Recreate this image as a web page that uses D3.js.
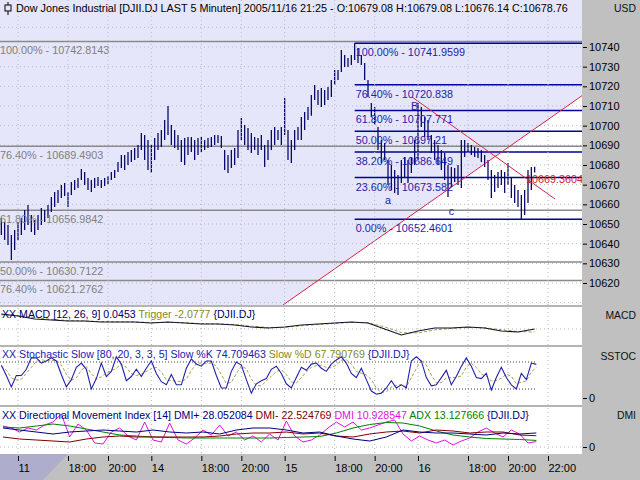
<!DOCTYPE html>
<html lang="de">
<head>
<meta charset="UTF-8">
<title>Dow Jones Industrial - 5 Minuten</title>
<style>
  body { margin: 0; background: #c0c0c0; }
  svg { display: block; font-family: "Liberation Sans", Arial, sans-serif; }
</style>
</head>
<body>
<div id="chart"></div>
<script src="https://cdn.jsdelivr.net/npm/d3@7"></script>
<script>
// ---- data (bar index = 5 minute bars counted from 11/11 15:30, 80 bars per day) ----
const priceStart = -10, priceStep = 2;
const priceHigh = [
  10653.1, 10651.0, 10649.5, 10644.4, 10647.0, 10651.0, 10653.1, 10657.1, 10659.7, 10654.6,
  10652.0, 10654.6, 10658.1, 10657.1, 10659.7, 10663.7, 10666.3, 10667.3, 10669.8, 10670.9,
  10666.3, 10671.4, 10672.4, 10673.4, 10678.0, 10676.4, 10673.4, 10672.4, 10673.4, 10673.9,
  10672.4, 10673.4, 10674.4, 10676.4, 10677.5, 10681.5, 10685.1, 10685.1, 10686.6, 10687.6,
  10688.7, 10690.2, 10696.3, 10695.3, 10692.7, 10690.2, 10693.7, 10696.3, 10697.8, 10702.9,
  10710.0, 10700.3, 10697.8, 10695.3, 10692.7, 10693.7, 10694.2, 10694.2, 10692.7, 10693.7,
  10694.2, 10692.7, 10693.7, 10694.2, 10695.3, 10695.3, 10694.8, 10687.6, 10685.1, 10687.6,
  10688.7, 10697.8, 10703.9, 10700.3, 10698.8, 10696.3, 10694.2, 10693.7, 10695.3, 10690.2,
  10692.7, 10697.8, 10699.3, 10697.8, 10699.3, 10714.1, 10697.8, 10692.7, 10697.8, 10699.3,
  10704.4, 10707.0, 10709.5, 10715.6, 10720.7, 10718.1, 10719.2, 10718.1, 10719.7, 10723.2,
  10728.3, 10728.3, 10738.5, 10735.9, 10734.4, 10735.9, 10741.96, 10739.5, 10735.9, 10731.9,
  10723.2, 10711.5, 10709.5, 10699.3, 10692.7, 10691.2, 10682.5, 10680.0, 10677.5, 10674.9,
  10682.5, 10684.1, 10682.5, 10684.1, 10692.7, 10711.5, 10709.5, 10704.4, 10702.9, 10695.3,
  10692.7, 10690.2, 10687.6, 10686.1, 10680.0, 10679.0, 10678.5, 10680.0, 10692.7, 10692.7,
  10691.2, 10690.2, 10689.2, 10688.7, 10687.6, 10685.1, 10682.5, 10677.5, 10674.9, 10676.4,
  10677.5, 10676.4, 10681.0, 10673.4, 10669.8, 10667.3, 10664.8, 10667.3, 10677.5, 10679.0,
  10679.08
];
const priceLow = [
  10644.4, 10641.9, 10639.3, 10631.7, 10636.8, 10641.9, 10644.4, 10647.0, 10649.5, 10645.9,
  10644.4, 10647.0, 10649.5, 10651.0, 10653.1, 10656.1, 10658.7, 10660.7, 10663.2, 10664.2,
  10658.7, 10664.8, 10667.3, 10668.3, 10672.4, 10669.8, 10667.3, 10666.3, 10668.3, 10669.3,
  10668.3, 10669.3, 10670.3, 10672.4, 10673.4, 10676.4, 10678.5, 10677.5, 10680.0, 10681.5,
  10682.5, 10683.6, 10687.6, 10682.5, 10677.5, 10675.9, 10682.5, 10687.6, 10689.2, 10692.7,
  10695.3, 10690.2, 10688.7, 10687.6, 10681.5, 10680.0, 10685.1, 10686.6, 10682.5, 10685.1,
  10686.6, 10687.6, 10688.7, 10689.2, 10690.2, 10691.2, 10688.7, 10677.5, 10675.9, 10678.5,
  10680.0, 10683.6, 10692.7, 10690.2, 10687.6, 10686.1, 10687.6, 10685.1, 10687.6, 10679.0,
  10682.5, 10687.6, 10690.2, 10692.7, 10690.2, 10695.3, 10682.5, 10681.0, 10687.6, 10692.7,
  10692.7, 10697.8, 10702.9, 10705.0, 10713.1, 10710.5, 10709.5, 10710.5, 10713.1, 10714.6,
  10720.7, 10723.2, 10727.3, 10729.8, 10729.8, 10730.8, 10733.4, 10731.9, 10730.8, 10723.2,
  10714.6, 10704.4, 10700.3, 10687.6, 10681.0, 10682.5, 10669.8, 10667.3, 10665.8, 10664.8,
  10670.9, 10673.4, 10670.9, 10675.9, 10680.0, 10682.5, 10699.3, 10694.2, 10692.7, 10686.1,
  10682.5, 10680.0, 10677.5, 10672.4, 10663.7, 10668.8, 10671.4, 10669.8, 10668.3, 10684.1,
  10686.1, 10685.1, 10684.1, 10683.6, 10681.5, 10679.0, 10672.4, 10663.2, 10666.3, 10668.3,
  10669.8, 10665.8, 10669.8, 10663.2, 10660.7, 10658.7, 10652.46, 10654.6, 10660.7, 10667.3,
  10676.14
];

const macdStart = -10, macdStep = 10;
const macdValues = [10.5, 9.1, 7.0, 6.3, 5.6, 5.6, 4.9, 4.9, 4.9, 4.2, 4.9, 4.2, 3.5, 3.5, 2.8, 1.4, 0.7,
  1.4, 2.8, 3.5, 4.2, 4.9, 4.2, 0.0, -4.2, -1.4, 0.7, 0.7, 1.4, 0.7, -1.4, -2.1, 0.0453];
const macdTrigger = [10.0, 9.5, 8.0, 6.8, 6.0, 5.6, 5.2, 5.0, 4.9, 4.5, 4.6, 4.4, 3.8, 3.6, 3.1, 2.0, 1.0,
  1.2, 2.2, 3.1, 3.9, 4.6, 4.4, 1.5, -2.5, -2.8, -0.6, 0.4, 1.0, 0.9, -0.5, -1.8, -2.0777];

const stochStart = -10, stochStep = 3;
const stochK = [
  73.0, 50.0, 24.7, 50.0, 50.0, 63.8, 89.2, 89.2, 77.6, 82.3,
  89.2, 82.3, 52.3, 24.7, 40.8, 68.4, 77.6, 63.8, 20.0, 43.1,
  77.6, 47.7, 59.2, 91.5, 75.3, 38.5, 47.7, 63.8, 47.7, 66.1,
  82.3, 54.6, 36.2, 29.3, 52.3, 29.3, 29.3, 66.1, 86.9, 75.3,
  70.7, 82.3, 82.3, 50.0, 22.3, 22.3, 59.2, 80.0, 73.0, 40.8,
  10.8, 31.6, 38.5, 43.1, 63.8, 70.7, 54.6, 31.6, 22.3, 45.4,
  68.4, 61.5, 75.3, 77.6, 66.1, 59.2, 75.3, 84.6, 91.5, 77.6,
  54.6, 45.4, 66.1, 40.8, 15.4, 8.5, 10.8, 22.3, 38.5, 22.3,
  29.3, 22.3, 82.3, 91.5, 82.3, 45.4, 27.0, 29.3, 45.4, 61.5,
  29.3, 47.7, 70.7, 89.2, 70.7, 45.4, 43.1, 54.6, 17.7, 45.4,
  68.4, 45.4, 29.3, 20.0, 54.6, 40.8, 77.6, 74.709463
];
const stochD = [
  70, 62, 45, 40, 42, 55, 68, 81, 85, 83,
  83, 84, 74, 53, 39, 45, 62, 70, 54, 42,
  47, 56, 61, 66, 75, 68, 54, 50, 53, 59,
  65, 68, 58, 40, 39, 37, 37, 42, 61, 76,
  78, 76, 78, 71, 52, 32, 35, 54, 71, 65,
  42, 28, 27, 38, 48, 59, 63, 52, 36, 33,
  45, 58, 68, 72, 73, 68, 67, 73, 84, 85,
  75, 59, 55, 51, 41, 22, 12, 14, 24, 28,
  30, 25, 45, 65, 85, 73, 51, 34, 34, 45,
  45, 46, 49, 69, 77, 68, 53, 48, 38, 39,
  44, 53, 48, 32, 35, 38, 58, 67.790769
];

const dmiStart = -9, dmiStep = 10;
const dmiPlus = [38, 34, 30, 26, 30, 32, 34, 32, 30, 34, 30, 28, 30, 26, 34, 38, 38, 34, 28, 30,
  22, 16, 12, 20, 34, 30, 28, 28, 26, 24, 28, 26, 28.052084];
const dmiMinus = [20, 16, 14, 12, 10, 16, 20, 22, 20, 20, 20, 20, 20, 22, 26, 28, 28, 30, 26, 28,
  22, 20, 26, 30, 32, 28, 34, 32, 28, 30, 30, 24, 22.524769];
const adxValues = [40, 38, 42, 46, 42, 36, 30, 24, 22, 20, 19, 18, 18, 18, 18, 18, 18, 19, 20, 21,
  28, 38, 45, 49, 48, 42, 32, 24, 20, 17, 16, 15, 13.127666];
const dxStart = -9, dxStep = 5;
const dxValues = [
  42, 38, 30, 38, 34, 44, 50, 66, 20, 46,
  34, 8, 6, 30, 38, 22, 14, 50, 14, 10,
  48, 14, 6, 18, 34, 24, 44, 22, 30, 14,
  22, 10, 26, 14, 52, 22, 10, 14, 24, 38,
  50, 40, 50, 34, 38, 44, 50, 54, 26, 12,
  22, 14, 8, 14, 4, 12, 18, 30, 38, 28,
  20, 34, 26, 8, 10.928547
];

const tickBars = [0, 30, 54, 80, 110, 134, 160, 190, 214, 240, 270, 294, 318];
const tickLabels = ["11", "18:00", "20:00", "14", "18:00", "20:00", "15", "18:00", "20:00", "16", "18:00", "20:00", "22:00"];
const priceTicks = [10620, 10630, 10640, 10650, 10660, 10670, 10680, 10690, 10700, 10710, 10720, 10730, 10740];

const fibLeftNames = ["100.00%", "76.40%", "61.80%", "50.00%", "76.40%"];
const fibLeftText = ["10742.8143", "10689.4903", "10656.9842", "10630.7122", "10621.2762"];
const fibRightNames = ["100.00%", "76.40%", "61.80%", "50.00%", "38.20%", "23.60%", "0.00%"];
const fibRightText = ["10741.9599", "10720.838", "10707.771", "10697.21", "10686.649", "10673.582", "10652.4601"];
const fibRightStartBar = 202;

const upTrendBars = [159, 339], upTrendPrices = [10608.8, 10715.6];
const downTrendBars = [236.4, 322.2], downTrendPrices = [10714.6, 10662.7];
const crossText = "10669.3604", crossBar = 339, crossPrice = 10673;
const waveNames = ["B", "a", "c"], waveBars = [238, 222, 260], wavePrices = [10710.2, 10662.3, 10656.6];

// ---- layout ----
const W = 640, H = 480, plotR = 582;
const panels = {
  main: [0, 305], macd: [307, 345], stoch: [347, 405], dmi: [407, 454]
};
const lavender = "#e6e6fa";
const fs = "10.8px", fsAxis = "11px", fsCap = "10.4px";

const svg = d3.select("#chart").append("svg").attr("width", W).attr("height", H);

svg.append("rect").attr("width", W).attr("height", H).attr("fill", "#c0c0c0");
// separators
svg.append("rect").attr("x", 0).attr("y", 0).attr("width", plotR).attr("height", 454).attr("fill", "#b4b4b4");
Object.entries(panels).forEach(([k, p]) => {
  svg.append("clipPath").attr("id", "clip-" + k).append("rect")
    .attr("x", 0).attr("y", p[0]).attr("width", plotR).attr("height", p[1] - p[0]);
  svg.append("rect").attr("x", 0).attr("y", p[0]).attr("width", plotR).attr("height", p[1] - p[0]).attr("fill", "#fff");
});

const x = d3.scaleLinear().domain([-10.8, 339]).range([0, 583]);
const yP = d3.scaleLinear().domain([10620, 10740]).range([283, 47]);
const yM = d3.scaleLinear().domain([0, 10]).range([329, 314.7]);
const yS = d3.scaleLinear().domain([0, 100]).range([398, 353]);
const yD = d3.scaleLinear().domain([0, 100]).range([447, 397]);

function series(values, start, step) {
  return values.map((v, i) => ({ bar: start + i * step, v: v }));
}

// bluish shading in the time strip
svg.append("polygon").attr("points", "0,454 68,454 43,480 0,480").attr("fill", "#aeaecc");

// ---- main panel ----
const gMain = svg.append("g").attr("clip-path", "url(#clip-main)");
const slope = (upTrendPrices[1] - upTrendPrices[0]) / (upTrendBars[1] - upTrendBars[0]);
const upAt = b => upTrendPrices[0] + (b - upTrendBars[0]) * slope;
const farBar = 60;
gMain.append("polygon").attr("fill", lavender).attr("points", [
  [x(-10.8), 0], [x(339), 0], [x(339), yP(upAt(339))], [x(farBar), yP(upAt(farBar))], [x(-10.8), yP(upAt(farBar))]
].map(p => p.join(",")).join(" "));

// grid
gMain.selectAll("line.hgrid").data(d3.range(10610, 10760, 10)).join("line")
  .attr("x1", 0).attr("x2", plotR).attr("y1", d => yP(d)).attr("y2", d => yP(d))
  .attr("stroke", "#b8b8c8").attr("stroke-dasharray", "1,3");
svg.append("g").selectAll("line").data(tickBars).join("line")
  .attr("x1", d => x(d)).attr("x2", d => x(d)).attr("y1", 0).attr("y2", 454)
  .attr("stroke", "#b8b8c8").attr("stroke-dasharray", "1,3");

// left (grey) fibonacci set
const fibLeft = fibLeftNames.map((n, i) => ({ name: n, text: fibLeftText[i], v: +fibLeftText[i] }));
gMain.selectAll("line.fibL").data(fibLeft).join("line")
  .attr("x1", 0).attr("x2", plotR).attr("y1", d => yP(d.v)).attr("y2", d => yP(d.v))
  .attr("stroke", "#8a8a8a").attr("stroke-width", 1.5);

// price bars
const bars = priceHigh.map((h, i) => ({ bar: priceStart + i * priceStep, high: h, low: priceLow[i] }));
gMain.selectAll("line.bar").data(bars).join("line")
  .attr("x1", d => x(d.bar)).attr("x2", d => x(d.bar))
  .attr("y1", d => yP(d.high)).attr("y2", d => yP(d.low))
  .attr("stroke", "#000066").attr("stroke-width", 1.25);

// right (blue) fibonacci set
const fibRight = fibRightNames.map((n, i) => ({ name: n, text: fibRightText[i], v: +fibRightText[i] }));
gMain.selectAll("line.fibR").data(fibRight).join("line")
  .attr("x1", x(fibRightStartBar)).attr("x2", plotR).attr("y1", d => yP(d.v)).attr("y2", d => yP(d.v))
  .attr("stroke", "#00009a").attr("stroke-width", 1.5);

// trend lines
const line = d3.line().x(d => x(d[0])).y(d => yP(d[1]));
gMain.append("path").attr("d", line(upTrendBars.map((b, i) => [b, upTrendPrices[i]])))
  .attr("stroke", "#dd2244").attr("fill", "none");
gMain.append("path").attr("d", line(downTrendBars.map((b, i) => [b, downTrendPrices[i]])))
  .attr("stroke", "#dd2244").attr("fill", "none");

// labels
gMain.selectAll("text.fibL").data(fibLeft).join("text")
  .attr("x", 0).attr("y", d => yP(d.v) + 13).attr("font-size", fs).attr("fill", "#808080")
  .text(d => d.name + " - " + d.text);
gMain.selectAll("text.fibR").data(fibRight).join("text")
  .attr("x", x(fibRightStartBar) + 1).attr("y", d => yP(d.v) + 13).attr("font-size", fs).attr("fill", "#1c1ca8")
  .text(d => d.name + " - " + d.text);
gMain.selectAll("text.wave").data(waveNames).join("text")
  .attr("x", (d, i) => x(waveBars[i])).attr("y", (d, i) => yP(wavePrices[i]) + 4)
  .attr("text-anchor", "middle").attr("font-size", fs).attr("fill", "#1c1ca8").text(d => d);
gMain.append("text").attr("x", x(crossBar)).attr("y", yP(crossPrice) + 4)
  .attr("text-anchor", "end").attr("font-size", fs).attr("fill", "#d42030").text(crossText);

// title with candle icon
svg.append("line").attr("x1", 8).attr("x2", 8).attr("y1", 2).attr("y2", 15).attr("stroke", "#000");
svg.append("rect").attr("x", 5).attr("y", 5).attr("width", 6).attr("height", 6).attr("fill", lavender).attr("stroke", "#000");
svg.append("text").attr("x", 16).attr("y", 12).attr("font-size", fs).attr("fill", "#000")
  .text("Dow Jones Industrial [DJII.DJ LAST 5 Minuten] 2005/11/16 21:25 - O:10679.08 H:10679.08 L:10676.14 C:10678.76");

// price axis
const axP = svg.append("g").attr("transform", `translate(${plotR + 1},0)`)
  .call(d3.axisRight(yP).tickValues(priceTicks).tickSize(4).tickPadding(2).tickFormat(d3.format("d")));
axP.select(".domain").remove();
axP.selectAll("text").attr("font-size", fsAxis).attr("font-family", "Liberation Sans, Arial, sans-serif").attr("fill", "#000");
axP.selectAll("line").attr("stroke", "#000");

// ---- MACD ----
const gMacd = svg.append("g").attr("clip-path", "url(#clip-macd)");
gMacd.append("line").attr("x1", 0).attr("x2", plotR).attr("y1", yM(0)).attr("y2", yM(0))
  .attr("stroke", "#b8b8b8").attr("stroke-dasharray", "1,3");
const lineM = d3.line().x(d => x(d.bar)).y(d => yM(d.v));
gMacd.append("path").attr("d", lineM(series(macdTrigger, macdStart, macdStep)))
  .attr("fill", "none").attr("stroke", "#a0a050").attr("stroke-dasharray", "3,2");
gMacd.append("path").attr("d", lineM(series(macdValues, macdStart, macdStep)))
  .attr("fill", "none").attr("stroke", "#101030").attr("stroke-width", 1.1);

// ---- Stochastic ----
const gSt = svg.append("g").attr("clip-path", "url(#clip-stoch)");
const lastBar = stochStart + (stochK.length - 1) * stochStep;
gSt.selectAll("line.lvl").data([80, 20]).join("line")
  .attr("x1", 0).attr("x2", x(lastBar)).attr("y1", d => yS(d)).attr("y2", d => yS(d))
  .attr("stroke", "#404040").attr("stroke-dasharray", "1,2");
const lineS = d3.line().x(d => x(d.bar)).y(d => yS(d.v));
gSt.append("path").attr("d", lineS(series(stochD, stochStart, stochStep)))
  .attr("fill", "none").attr("stroke", "#a8a050").attr("stroke-dasharray", "3,2");
gSt.append("path").attr("d", lineS(series(stochK, stochStart, stochStep)))
  .attr("fill", "none").attr("stroke", "#2020b0").attr("stroke-width", 1.1);

// ---- DMI ----
const gD = svg.append("g").attr("clip-path", "url(#clip-dmi)");
gD.append("line").attr("x1", 0).attr("x2", plotR).attr("y1", yD(0)).attr("y2", yD(0))
  .attr("stroke", "#b8b8b8").attr("stroke-dasharray", "1,3");
const lineD = d3.line().x(d => x(d.bar)).y(d => yD(d.v));
[[dxValues, dxStart, dxStep, "#e010e0"], [adxValues, dmiStart, dmiStep, "#008000"],
 [dmiMinus, dmiStart, dmiStep, "#800000"], [dmiPlus, dmiStart, dmiStep, "#000080"]].forEach(s => {
  gD.append("path").attr("d", lineD(series(s[0], s[1], s[2])))
    .attr("fill", "none").attr("stroke", s[3]).attr("stroke-width", 1);
});

// zero labels on sub panels
[yS, yD].forEach(sc => {
  const g = svg.append("g").attr("transform", `translate(${plotR + 1},0)`)
    .call(d3.axisRight(sc).tickValues([0]).tickSize(4).tickPadding(2));
  g.select(".domain").remove();
  g.selectAll("text").attr("font-size", fsAxis).attr("font-family", "Liberation Sans, Arial, sans-serif").attr("fill", "#000");
  g.selectAll("line").attr("stroke", "#000");
});

// legends
function legend(yy, parts) {
  const t = svg.append("text").attr("x", 2).attr("y", yy).attr("font-size", "10.6px");
  parts.forEach(p => t.append("tspan").attr("fill", p[1]).text(p[0]));
}
legend(318, [["XX MACD [12, 26, 9] 0.0453 ", "#000060"], ["Trigger -2.0777", "#888820"], [" {DJII.DJ}", "#000060"]]);
legend(358, [["XX Stochastic Slow [80, 20, 3, 3, 5] Slow %K 74.709463 ", "#2020b0"], ["Slow %D 67.790769", "#888820"], [" {DJII.DJ}", "#2020b0"]]);
legend(419, [["XX Directional Movement Index [14] DMI+ 28.052084 ", "#000080"], ["DMI- 22.524769 ", "#800000"],
  ["DMI 10.928547 ", "#e010e0"], ["ADX 13.127666 ", "#008000"], ["{DJII.DJ}", "#000080"]]);

// right side captions
[["USD", 12], ["MACD", 319], ["SSTOC", 360], ["DMI", 419]].forEach(c => {
  svg.append("text").attr("x", 636).attr("y", c[1]).attr("text-anchor", "end")
    .attr("font-size", fsCap).attr("fill", "#101010").text(c[0]);
});

// time axis
const axT = svg.append("g").attr("transform", "translate(0,456)")
  .call(d3.axisBottom(x).tickValues(tickBars).tickSize(5).tickPadding(3).tickFormat((d, i) => tickLabels[i]));
axT.select(".domain").remove();
axT.selectAll("line").attr("stroke", "#000");
axT.selectAll("text").attr("text-anchor", "start").attr("x", 0).attr("font-size", fsAxis)
  .attr("font-family", "Liberation Sans, Arial, sans-serif").attr("fill", "#000");
</script>
</body>
</html>
